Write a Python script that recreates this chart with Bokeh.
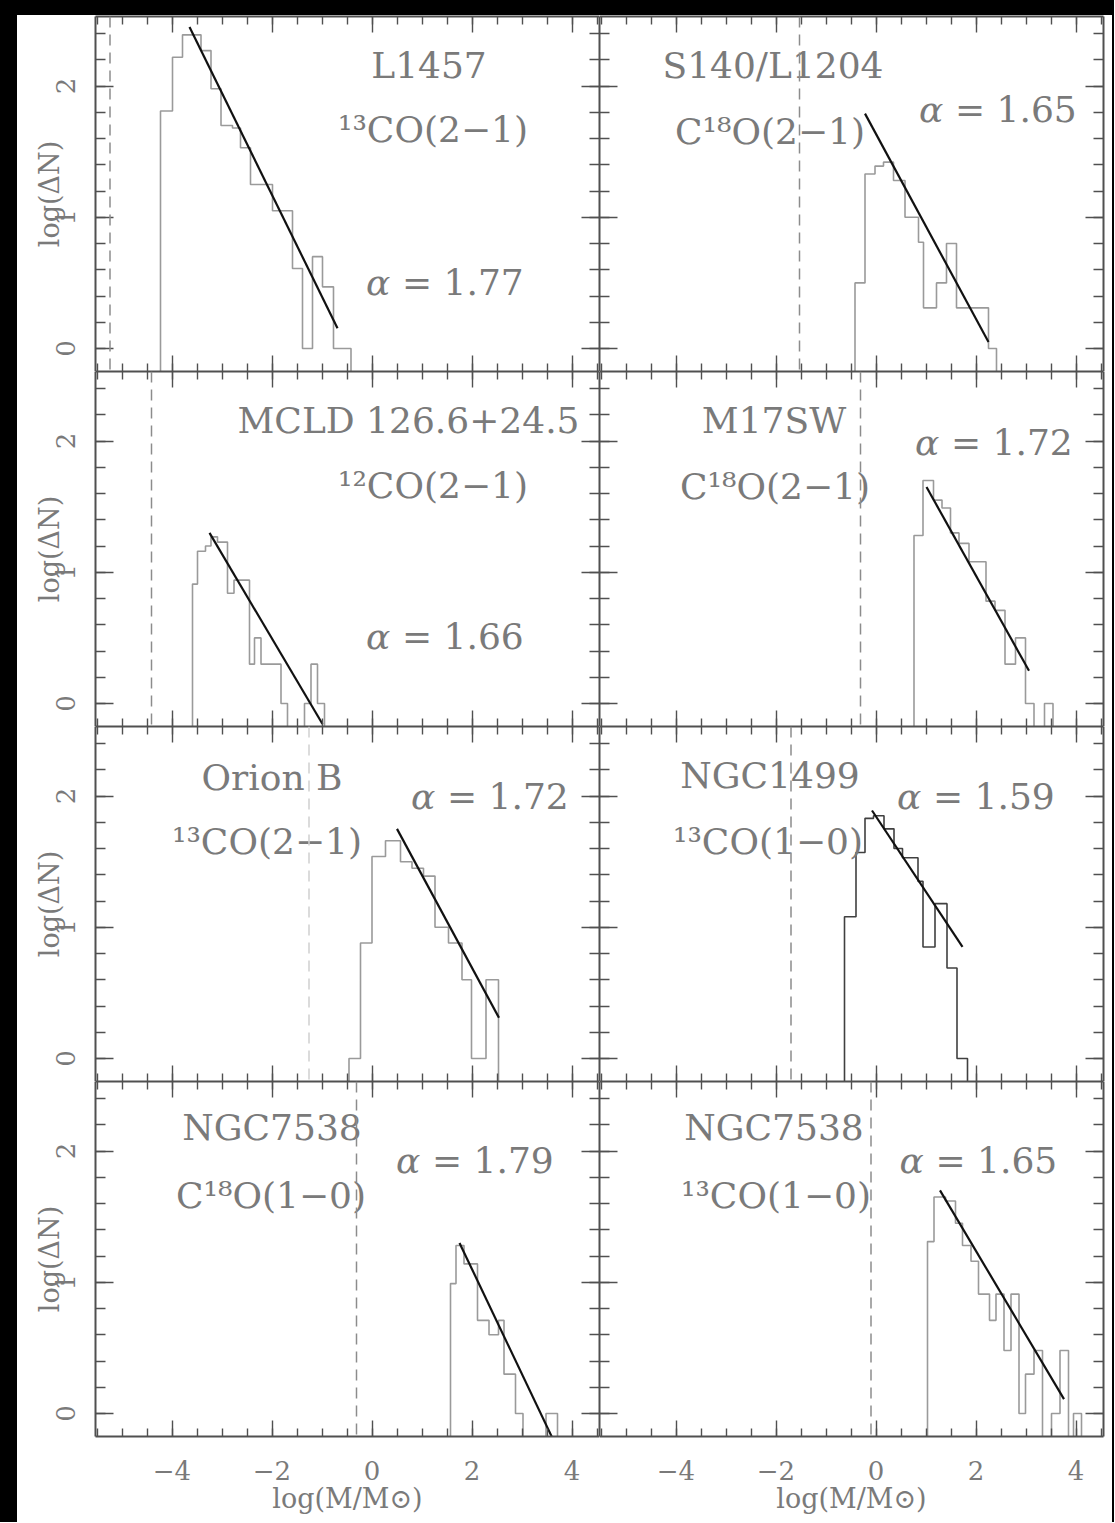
from bokeh.plotting import figure
from bokeh.models import LinearAxis, SingleIntervalTicker, Span, Div
from bokeh.layouts import gridplot, column, row
from bokeh.core.properties import value
from bokeh.embed import file_html
from bokeh.resources import INLINE

# ---------------- data ----------------
X_TICKS = [-4, -2, 0, 2, 4]
X_TICK_LABELS = ["\u22124", "\u22122", "0", "2", "4"]
Y_TICKS = [0, 1, 2]
Y_TICK_LABELS = ["0", "1", "2"]

# L1457  13CO(2-1)
L1457_edges = [-4.23, -3.99, -3.79, -3.42, -3.22, -3.02, -2.79, -2.63, -2.43, -1.99,
               -1.59, -1.39, -1.19, -0.99, -0.77, -0.42]
L1457_logN = [1.81, 2.22, 2.39, 2.27, 1.98, 1.70, 1.68, 1.53, 1.25, 1.05, 0.61, 0.0, 0.70, 0.47, 0.0]
L1457_fit_x = [-3.65, -0.69]
L1457_fit_y = [2.45, 0.155]
L1457_limit = -5.24

# S140/L1204  C18O(2-1)
S140_edges = [-0.42, -0.22, -0.02, 0.15, 0.35, 0.58, 0.85, 0.95, 1.21, 1.41, 1.61, 2.25, 2.41]
S140_logN = [0.50, 1.33, 1.39, 1.42, 1.28, 1.00, 0.81, 0.31, 0.50, 0.80, 0.31, 0.0]
S140_fit_x = [-0.22, 2.25]
S140_fit_y = [1.79, 0.05]
S140_limit = -1.53

# MCLD 126.6+24.5  12CO(2-1)
MCLD_edges = [-3.59, -3.49, -3.33, -3.22, -3.09, -2.89, -2.76, -2.45, -2.35, -2.22, -1.82,
              -1.69, -1.35, -1.22, -1.09, -0.95]
MCLD_logN = [0.91, 1.16, 1.20, 1.27, 1.23, 0.84, 0.94, 0.30, 0.50, 0.30, 0.0, None, 0.0, 0.30, 0.0]
MCLD_fit_x = [-3.25, -0.99]
MCLD_fit_y = [1.30, -0.156]
MCLD_limit = -4.41

# M17SW  C18O(2-1)
M17SW_edges = [0.76, 0.94, 1.15, 1.32, 1.49, 1.66, 1.86, 2.20, 2.38, 2.58, 2.79, 2.99, 3.16, 3.37, 3.54]
M17SW_logN = [1.28, 1.70, 1.55, 1.49, 1.30, 1.22, 1.08, 0.78, 0.71, 0.30, 0.50, 0.0, None, 0.0]
M17SW_fit_x = [1.01, 3.06]
M17SW_fit_y = [1.65, 0.25]
M17SW_limit = -0.31

# Orion B  13CO(2-1)
ORIB_edges = [-0.46, -0.23, 0.0, 0.27, 0.57, 0.80, 1.03, 1.26, 1.53, 1.80, 1.99, 2.28, 2.53]
ORIB_logN = [0.0, 0.88, 1.54, 1.66, 1.50, 1.45, 1.39, 1.00, 0.88, 0.60, 0.0, 0.60]
ORIB_fit_x = [0.50, 2.54]
ORIB_fit_y = [1.75, 0.31]
ORIB_limit = -1.26

# NGC1499  13CO(1-0)
N1499_edges = [-0.63, -0.40, -0.22, -0.05, 0.16, 0.36, 0.53, 0.84, 0.94, 1.18, 1.42, 1.62, 1.83]
N1499_logN = [1.08, 1.57, 1.83, 1.85, 1.75, 1.60, 1.53, 1.35, 0.85, 1.18, 0.69, 0.0]
N1499_fit_x = [-0.08, 1.73]
N1499_fit_y = [1.89, 0.85]
N1499_limit = -1.70

# NGC7538  C18O(1-0)
N7538C_edges = [1.57, 1.68, 1.84, 2.11, 2.34, 2.53, 2.64, 2.87, 3.02, 3.48, 3.71]
N7538C_logN = [0.99, 1.28, 1.14, 0.71, 0.60, 0.71, 0.30, 0.0, None, 0.0]
N7538C_fit_x = [1.75, 3.60]
N7538C_fit_y = [1.30, -0.18]
N7538C_limit = -0.31

# NGC7538  13CO(1-0)
N7538T_edges = [1.03, 1.16, 1.39, 1.59, 1.73, 1.90, 2.05, 2.27, 2.40, 2.56, 2.70, 2.86, 2.99,
                3.16, 3.33, 3.51, 3.68, 3.85, 3.95, 4.11]
N7538T_logN = [1.31, 1.65, 1.62, 1.45, 1.28, 1.16, 0.91, 0.71, 0.91, 0.48, 0.91, 0.0, 0.30, 0.48,
               None, 0.0, 0.48, None, 0.0]
N7538T_fit_x = [1.28, 3.76]
N7538T_fit_y = [1.70, 0.11]
N7538T_limit = -0.10

NAMES = ["L1457", "S140/L1204", "MCLD 126.6+24.5", "M17SW", "Orion B", "NGC1499", "NGC7538", "NGC7538"]
LINES = ["\u00b9\u00b3CO(2\u22121)", "C\u00b9\u2078O(2\u22121)", "\u00b9\u00b2CO(2\u22121)",
         "C\u00b9\u2078O(2\u22121)", "\u00b9\u00b3CO(2\u22121)", "\u00b9\u00b3CO(1\u22120)",
         "C\u00b9\u2078O(1\u22120)", "\u00b9\u00b3CO(1\u22120)"]
ALPHAS = ["1.77", "1.65", "1.66", "1.72", "1.72", "1.59", "1.79", "1.65"]

HISTS = [(L1457_edges, L1457_logN), (S140_edges, S140_logN), (MCLD_edges, MCLD_logN),
         (M17SW_edges, M17SW_logN), (ORIB_edges, ORIB_logN), (N1499_edges, N1499_logN),
         (N7538C_edges, N7538C_logN), (N7538T_edges, N7538T_logN)]
FITS = [(L1457_fit_x, L1457_fit_y), (S140_fit_x, S140_fit_y), (MCLD_fit_x, MCLD_fit_y),
        (M17SW_fit_x, M17SW_fit_y), (ORIB_fit_x, ORIB_fit_y), (N1499_fit_x, N1499_fit_y),
        (N7538C_fit_x, N7538C_fit_y), (N7538T_fit_x, N7538T_fit_y)]
LIMITS = [L1457_limit, S140_limit, MCLD_limit, M17SW_limit, ORIB_limit, N1499_limit,
          N7538C_limit, N7538T_limit]

# ---------------- layout / style ----------------
XR = (-5.53, 4.55)
YR = (-0.175, 2.53)
FLOOR = -1.0
FW, FH = 504, 355
BL, BR, BT, BB = 78, 9, 1, 86
BAR_L, BAR_T, BAR_R = 17, 15, 2

FONT = "DejaVu Serif"
FRAME = "#505050"
TXT = "#7a7a7a"
HIST = "#9a9a9a"
HIST_DARK = "#404040"
LIM = "#8c8c8c"
FIT = "#111111"

# label positions in data units: (name), (line), (alpha)
POS = [
    ((1.14, 2.16), (1.22, 1.67), (1.44, 0.50)),
    ((-2.06, 2.16), (-2.12, 1.65), (2.42, 1.82)),
    ((0.73, 2.16), (1.22, 1.66), (1.44, 0.51)),
    ((-2.04, 2.16), (-2.02, 1.65), (2.34, 1.99)),
    ((-2.00, 2.14), (-2.10, 1.65), (2.34, 2.00)),
    ((-2.12, 2.16), (-2.16, 1.65), (1.98, 2.00)),
    ((-2.00, 2.18), (-2.02, 1.66), (2.04, 1.93)),
    ((-2.04, 2.18), (-2.00, 1.66), (2.03, 1.93)),
]
HIST_COLORS = [HIST, HIST, HIST, HIST, HIST, HIST_DARK, HIST, HIST]
LIM_COLORS = [LIM, LIM, LIM, LIM, "#d0d0d0", LIM, LIM, LIM]


def hist_paths(edges, heights, floor):
    xs, ys, cx, cy = [], [], [], []
    for i, h in enumerate(heights):
        x0, x1 = edges[i], edges[i + 1]
        if h is None:
            if cx:
                cx.append(x0); cy.append(floor)
                xs.append(cx); ys.append(cy)
                cx, cy = [], []
            continue
        if not cx:
            cx, cy = [x0], [floor]
        cx += [x0, x1]
        cy += [h, h]
    if cx:
        cx.append(edges[-1]); cy.append(floor)
        xs.append(cx); ys.append(cy)
    return xs, ys


def style_axis(ax, interval, minor_n, tin, tmin):
    ax.ticker = SingleIntervalTicker(interval=interval, num_minor_ticks=minor_n)
    ax.axis_line_color = FRAME
    ax.axis_line_width = 2
    ax.major_tick_in = tin
    ax.major_tick_out = 0
    ax.minor_tick_in = tmin
    ax.minor_tick_out = 0
    ax.major_tick_line_color = FRAME
    ax.minor_tick_line_color = FRAME
    ax.major_tick_line_width = 1.4
    ax.minor_tick_line_width = 1.4
    # unlabeled side: no tick labels drawn, no space taken
    ax.major_label_text_font_size = "0px"
    ax.major_label_text_alpha = 0
    ax.major_label_text_color = None
    ax.major_label_standoff = 0


def label_axis(ax, ticks, labels, title, vertical, standoff, title_standoff):
    ax.major_label_text_font_size = "26px"
    ax.major_label_text_alpha = 1
    ax.major_label_text_font = FONT
    ax.major_label_text_color = TXT
    ax.major_label_standoff = standoff
    ax.major_label_overrides = {t: s for t, s in zip(ticks, labels)}
    if vertical:
        ax.major_label_orientation = "vertical"
    ax.axis_label = title
    ax.axis_label_text_font = FONT
    ax.axis_label_text_font_size = "27px"
    ax.axis_label_text_font_style = "normal"
    ax.axis_label_text_color = TXT
    ax.axis_label_standoff = title_standoff


figs = []
for k in range(8):
    r, c = divmod(k, 2)
    left, top, bottom = c == 0, r == 0, r == 3
    bl = BL if left else 0
    br = 0 if left else BR
    bt = BT if top else 0
    bb = BB if bottom else 0
    p = figure(width=FW + bl + br, height=FH + bt + bb, x_range=XR, y_range=YR,
               output_backend="svg", toolbar_location=None,
               min_border_left=bl, min_border_right=br,
               min_border_top=bt, min_border_bottom=bb)
    p.background_fill_color = "white"
    p.border_fill_color = "white"
    p.outline_line_color = None
    p.xgrid.visible = False
    p.ygrid.visible = False
    p.add_layout(LinearAxis(), "above")
    p.add_layout(LinearAxis(), "right")
    for ax in p.above + p.below:
        style_axis(ax, 2, 4, 16, 8)
    for ax in p.left + p.right:
        style_axis(ax, 1, 5, 18, 10)
    if left:
        label_axis(p.yaxis[0], Y_TICKS, Y_TICK_LABELS, "log(\u0394N)", True, 20, -11)
    if bottom:
        label_axis(p.below[0], X_TICKS, X_TICK_LABELS, "log(M/M\u2299)", False, 24, 0)

    edges, logn = HISTS[k]
    xs, ys = hist_paths(edges, logn, FLOOR)
    p.multi_line(xs=xs, ys=ys, line_color=HIST_COLORS[k], line_width=1.6)

    p.add_layout(Span(location=LIMITS[k], dimension="height", line_color=LIM_COLORS[k],
                      line_width=1.5, line_dash="11 7"))

    fx, fy = FITS[k]
    p.line(x=fx, y=fy, line_color=FIT, line_width=2.2)

    (nx, ny), (lx, ly), (ax_, ay) = POS[k]
    p.text(x=[nx, lx], y=[ny, ly], text=[NAMES[k], LINES[k]],
           text_font=value(FONT), text_font_size="36px", text_color=TXT,
           text_align="center", text_baseline="middle")
    # alpha label: italic greek letter + upright value
    p.text(x=[ax_], y=[ay], text=["\u03b1"], x_offset=-78,
           text_font=value(FONT), text_font_size="36px", text_font_style="italic",
           text_color=TXT, text_align="left", text_baseline="middle")
    p.text(x=[ax_], y=[ay], text=["= " + ALPHAS[k]], x_offset=-42,
           text_font=value(FONT), text_font_size="36px", text_color=TXT,
           text_align="left", text_baseline="middle")
    figs.append(p)

grid = gridplot([figs[0:2], figs[2:4], figs[4:6], figs[6:8]], toolbar_location=None)

total_w = BAR_L + (FW + BL) + (FW + BR) + BAR_R
total_h = (FH + BT) + FH * 2 + (FH + BB)
black = {"background-color": "black"}
top_bar = Div(text="", width=total_w, height=BAR_T, margin=0, styles=black)
left_bar = Div(text="", width=BAR_L, height=total_h, margin=0, styles=black)
right_bar = Div(text="", width=BAR_R, height=total_h, margin=0, styles=black)
page = column(top_bar, row(left_bar, grid, right_bar))

open("out.html", "w").write(file_html(page, INLINE))
